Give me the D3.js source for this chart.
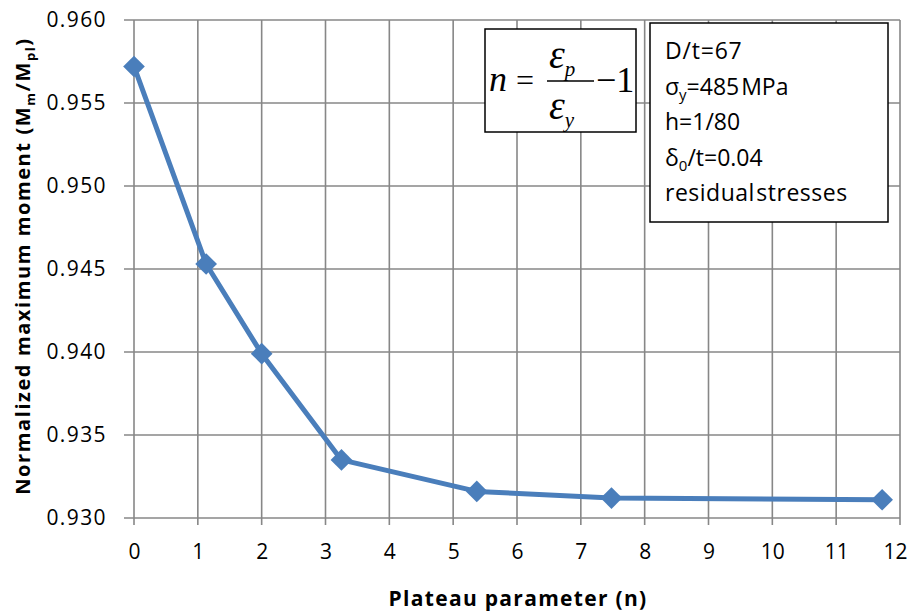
<!DOCTYPE html>
<html><head><meta charset="utf-8">
<script src="https://cdn.jsdelivr.net/npm/d3@7"></script>
<style>
body{margin:0;background:#fff;}
text{font-family:"Open Sans",sans-serif;fill:#000;}
</style></head>
<body><svg id="c" width="910" height="612"></svg>
<script>
const nValues = [0, 1.13, 2.0, 3.25, 5.37, 7.48, 11.72];
const momentValues = [0.9572, 0.9453, 0.9399, 0.9335, 0.9316, 0.9312, 0.9311];
const xTicks = [0,1,2,3,4,5,6,7,8,9,10,11,12];
const yTicks = [0.930,0.935,0.940,0.945,0.950,0.955,0.960];
const infoLines = ["D/t=67","σy=485 MPa","h=1/80","δ0/t=0.04","residual stresses"];

const svg = d3.select("#c");
const L=134, R=900, T=20, B=518;
const x = d3.scaleLinear().domain([0,12]).range([L,R]);
const y = d3.scaleLinear().domain([0.930,0.960]).range([B,T]);
const grid="#878787";

// gridlines
svg.append("g").selectAll("line").data(xTicks).join("line")
  .attr("x1",d=>x(d)).attr("x2",d=>x(d)).attr("y1",T).attr("y2",B+7)
  .attr("stroke",grid).attr("stroke-width",1.6);
svg.append("g").selectAll("line").data(yTicks).join("line")
  .attr("x1",L-10).attr("x2",R).attr("y1",d=>y(d)).attr("y2",d=>y(d))
  .attr("stroke",grid).attr("stroke-width",1.6);

// axis labels
const yAxis = d3.axisLeft(y).tickValues(yTicks).tickFormat(d3.format(".3f")).tickSize(0).tickPadding(27);
const gy = svg.append("g").attr("transform",`translate(${L},0)`).call(yAxis);
gy.select(".domain").remove();
gy.selectAll("text").style("font-size","21px").attr("letter-spacing","1.4px").attr("fill","#000");

const xAxis = d3.axisBottom(x).tickValues(xTicks).tickSize(0).tickPadding(26);
const gx = svg.append("g").attr("transform",`translate(0,${B})`).call(xAxis);
gx.select(".domain").remove();
gx.selectAll("text").style("font-size","21px").attr("fill","#000")
  .attr("dx",d=>d===12?-5:0);

// series
const pts = nValues.map((n,i)=>[n,momentValues[i]]);
svg.append("path").datum(pts)
  .attr("d",d3.line().x(d=>x(d[0])).y(d=>y(d[1])))
  .attr("fill","none").attr("stroke","#4a7ebb").attr("stroke-width",5).attr("stroke-linejoin","round");
svg.append("g").selectAll("path").data(pts).join("path")
  .attr("d",d3.symbol().type(d3.symbolDiamond2).size(300))
  .attr("transform",d=>`translate(${x(d[0])},${y(d[1])})`)
  .attr("fill","#4a7ebb");

// axis titles
svg.append("text").attr("x",(L+R)/2+1).attr("y",606).attr("text-anchor","middle")
  .style("font-size","21px").style("font-weight","bold").attr("letter-spacing","1.3px").text("Plateau parameter (n)");
const yt = svg.append("text").attr("transform","translate(30,266) rotate(-90)").attr("text-anchor","middle")
  .style("font-size","20px").style("font-weight","bold").attr("letter-spacing","1.6px");
yt.append("tspan").text("Normalized maximum  moment (M");
yt.append("tspan").attr("dy",5).style("font-size","13px").text("m");
yt.append("tspan").attr("dy",-5).text("/M");
yt.append("tspan").attr("dy",5).style("font-size","13px").text("pl");
yt.append("tspan").attr("dy",-5).text(")");

// formula box
svg.append("rect").attr("x",485).attr("y",29).attr("width",151).attr("height",103)
  .attr("fill","#fff").attr("stroke","#000").attr("stroke-width",1.5);
const ff = "'Liberation Serif','Times New Roman',serif";
svg.append("text").attr("x",489).attr("y",91).style("font-family",ff).style("font-size","36px").style("font-style","italic").text("n");
svg.append("text").attr("x",516).attr("y",91).style("font-family",ff).style("font-size","32px").text("=");
svg.append("line").attr("x1",547).attr("x2",594).attr("y1",81).attr("y2",81).attr("stroke","#000").attr("stroke-width",1.5);
const num = svg.append("text").attr("x",549).attr("y",68).style("font-family",ff).style("font-size","40px").style("font-style","italic");
num.append("tspan").text("ε"); num.append("tspan").attr("dy",8).style("font-size","21px").text("p");
const den = svg.append("text").attr("x",549).attr("y",119).style("font-family",ff).style("font-size","40px").style("font-style","italic");
den.append("tspan").text("ε"); den.append("tspan").attr("dy",8).style("font-size","21px").text("y");
svg.append("text").attr("x",596).attr("y",92).style("font-family",ff).style("font-size","36px").text("−1");

// info box
svg.append("rect").attr("x",650).attr("y",23).attr("width",238).attr("height",199)
  .attr("fill","#fff").attr("stroke","#000").attr("stroke-width",1.5);
const ib = svg.append("g").style("font-size","23px");
const lh = 35.5, y0 = 59;
ib.append("text").attr("x",665).attr("y",y0).attr("letter-spacing","0.8px").text(infoLines[0]);
const l2 = ib.append("text").attr("x",665).attr("y",y0+lh);
l2.append("tspan").text("σ"); l2.append("tspan").attr("dy",5).style("font-size","15px").text("y");
l2.append("tspan").attr("dy",-5).attr("word-spacing","-4px").text("=485 MPa");
ib.append("text").attr("x",665).attr("y",y0+2*lh).text(infoLines[2]);
const l4 = ib.append("text").attr("x",665).attr("y",y0+3*lh);
l4.append("tspan").text("δ"); l4.append("tspan").attr("dy",5).style("font-size","15px").text("0");
l4.append("tspan").attr("dy",-5).text("/t=0.04");
ib.append("text").attr("x",665).attr("y",y0+4*lh).attr("word-spacing","-5px").attr("letter-spacing","0.5px").text(infoLines[4]);
</script></body></html>
